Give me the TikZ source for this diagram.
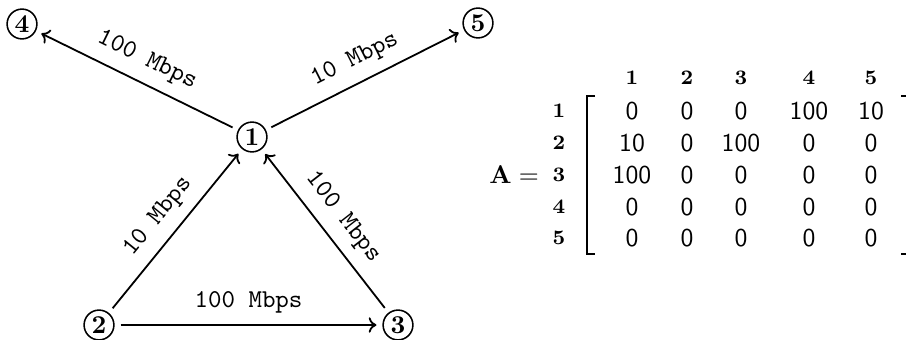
\documentclass[tikz,border=0pt]{standalone}
\usetikzlibrary{arrows.meta}
\begin{document}
\begin{tikzpicture}[x=0.389pt,y=-0.389pt,
  vtx/.style={circle,draw,line width=0.6pt,inner sep=0pt,minimum size=11.6pt,font=\bfseries,outer sep=2.6pt},
  link/.style={line width=0.7pt,-{To[length=3pt,width=6pt]}},
  rate/.style={font=\ttfamily,midway,sloped,above=0.8pt},
  entry/.style={font=\sffamily},
  idx/.style={font=\footnotesize\bfseries}]
\useasboundingbox (0,0) rectangle (906,339);
\node[vtx] (n1) at (252,137) {1};
\node[vtx] (n2) at (99,325) {2};
\node[vtx] (n3) at (398,325) {3};
\node[vtx] (n4) at (22,24) {4};
\node[vtx] (n5) at (478,23) {5};
\draw[link] (n1) -- node[rate] {100 Mbps} (n4);
\draw[link] (n1) -- node[rate] {10 Mbps} (n5);
\draw[link] (n2) -- node[rate] {10 Mbps} (n1);
\draw[link] (n3) -- node[rate] {100 Mbps} (n1);
\draw[link] (n2) -- node[rate] {100 Mbps} (n3);
% matrix
\node (A) at (514,175) {$\mathbf{A} =$};
\foreach \c/\x in {1/632,2/687,3/741,4/809,5/871}{
  \node[idx] (c\c) at (\x,78) {\c};
}
\foreach \r/\y in {1/111,2/143,3/175,4/207,5/238}{
  \node[idx] (r\r) at (559,\y) {\r};
}
\foreach \r/\y/\a/\b/\cc/\d/\e in {1/111/0/0/0/100/10,2/143/10/0/100/0/0,3/175/100/0/0/0/0,4/207/0/0/0/0/0,5/238/0/0/0/0/0}{
  \node[entry] (e\r1) at (632,\y) {\a};
  \node[entry] (e\r2) at (687,\y) {\b};
  \node[entry] (e\r3) at (741,\y) {\cc};
  \node[entry] (e\r4) at (809,\y) {\d};
  \node[entry] (e\r5) at (871,\y) {\e};
}
\coordinate (bl1) at (595,96);
\coordinate (bl2) at (587,96);
\coordinate (bl3) at (587,254);
\coordinate (bl4) at (595,254);
\draw[line width=0.7pt] (bl1) -- (bl2) -- (bl3) -- (bl4);
\coordinate (br1) at (901,96);
\coordinate (br2) at (909,96);
\coordinate (br3) at (909,254);
\coordinate (br4) at (901,254);
\draw[line width=0.7pt] (br1) -- (br2) -- (br3) -- (br4);
\end{tikzpicture}
\end{document}
